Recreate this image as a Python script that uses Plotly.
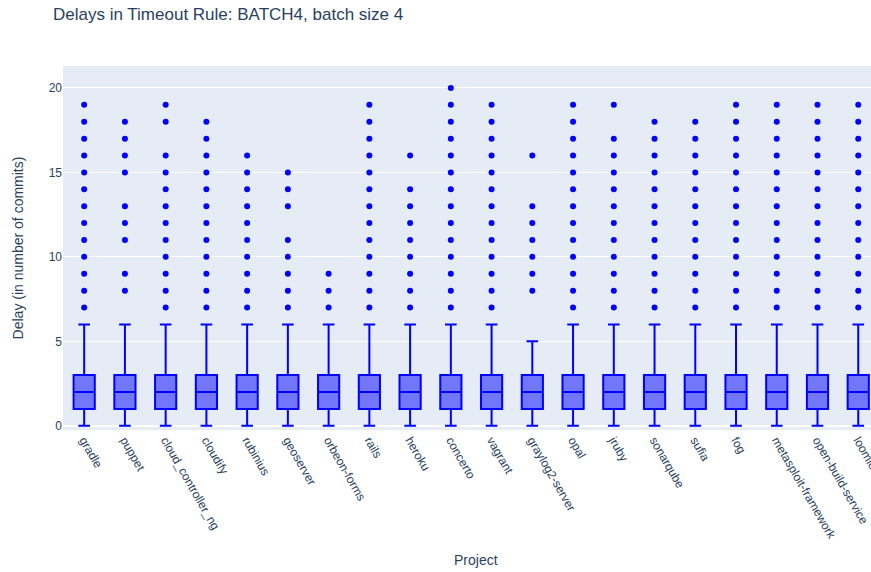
import plotly.graph_objects as go

projects = ["gradle", "puppet", "cloud_controller_ng", "cloudify", "rubinius", "geoserver",
            "orbeon-forms", "rails", "heroku", "concerto", "vagrant", "graylog2-server",
            "opal", "jruby", "sonarqube", "sufia", "fog", "metasploit-framework",
            "open-build-service", "loomio"]
q1 = [1] * 20
median = [2] * 20
q3 = [3] * 20
lowerfence = [0] * 20
upperfence = [6, 6, 6, 6, 6, 6, 6, 6, 6, 6, 6, 5, 6, 6, 6, 6, 6, 6, 6, 6]

full = [19, 18, 17, 16, 15, 14, 13, 12, 11, 10, 9, 8, 7]
outliers = [
    full,                                            # gradle
    [18, 17, 16, 15, 13, 12, 11, 9, 8],              # puppet
    [19, 18, 16, 15, 14, 13, 12, 11, 10, 9, 8, 7],   # cloud_controller_ng
    [18, 17, 16, 15, 14, 13, 12, 11, 10, 9, 8, 7],   # cloudify
    [16, 15, 14, 13, 12, 11, 10, 9, 8, 7],           # rubinius
    [15, 14, 13, 11, 10, 9, 8, 7],                   # geoserver
    [9, 8, 7],                                       # orbeon-forms
    full,                                            # rails
    [16, 14, 13, 12, 11, 10, 9, 8, 7],               # heroku
    [20] + full,                                     # concerto
    full,                                            # vagrant
    [16, 13, 12, 11, 10, 9, 8],                      # graylog2-server
    full,                                            # opal
    [19, 17, 16, 15, 14, 13, 12, 11, 10, 9, 8, 7],   # jruby
    [18, 17, 16, 15, 14, 13, 12, 11, 10, 9, 8, 7],   # sonarqube
    [18, 17, 16, 15, 14, 13, 12, 11, 10, 9, 8, 7],   # sufia
    full,                                            # fog
    full,                                            # metasploit-framework
    full,                                            # open-build-service
    full,                                            # loomio
]

W, H = 871, 572
L, T, B = 63, 66, 142
PW = W - L
PH = H - T - B

fig = go.Figure()
fig.add_trace(go.Box(
    x=projects, q1=q1, median=median, q3=q3,
    lowerfence=lowerfence, upperfence=upperfence,
    marker_color="blue", line=dict(color="blue", width=2),
    fillcolor="rgba(0,0,255,0.5)", width=0.52, whiskerwidth=0.55,
    showlegend=False, hoverinfo="skip",
))
ox, oy = [], []
for p, vals in zip(projects, outliers):
    for v in vals:
        ox.append(p)
        oy.append(v)
fig.add_trace(go.Scatter(
    x=ox, y=oy, mode="markers",
    marker=dict(color="blue", size=6), showlegend=False,
))

fig.update_layout(
    width=W, height=H,
    font=dict(family="Liberation Sans, Arial, sans-serif", color="#2a3f5f"),
    title=dict(text="Delays in Timeout Rule: BATCH4, batch size 4",
               x=53 / W, xanchor="left", y=1 - 14 / H, yanchor="middle",
               font=dict(size=17)),
    margin=dict(l=L, r=0, t=T, b=B),
    plot_bgcolor="#E5ECF6", paper_bgcolor="white",
    showlegend=False,
    annotations=[dict(text="Project", xref="paper", yref="paper",
                      x=(476 - L) / PW, y=-(560 - (H - B)) / PH,
                      xanchor="center", yanchor="middle", showarrow=False,
                      font=dict(size=14, color="#2a3f5f"))],
)
fig.update_xaxes(tickangle=60, categoryorder="array",
                 categoryarray=projects, range=[-0.52, -0.52 + PW / 40.74],
                 automargin=False, showgrid=False)
fig.update_yaxes(title_text="Delay (in number of commits)", title_standoff=21,
                 range=[-0.25, 21.3],
                 tickvals=[0, 5, 10, 15, 20], gridcolor="white", zeroline=True,
                 zerolinecolor="white", zerolinewidth=2, automargin=False)

fig.write_html(
    "out.html",
    config={"displayModeBar": False},
    post_script="document.body.style.margin='0';"
                "document.documentElement.style.overflow='hidden';",
)
